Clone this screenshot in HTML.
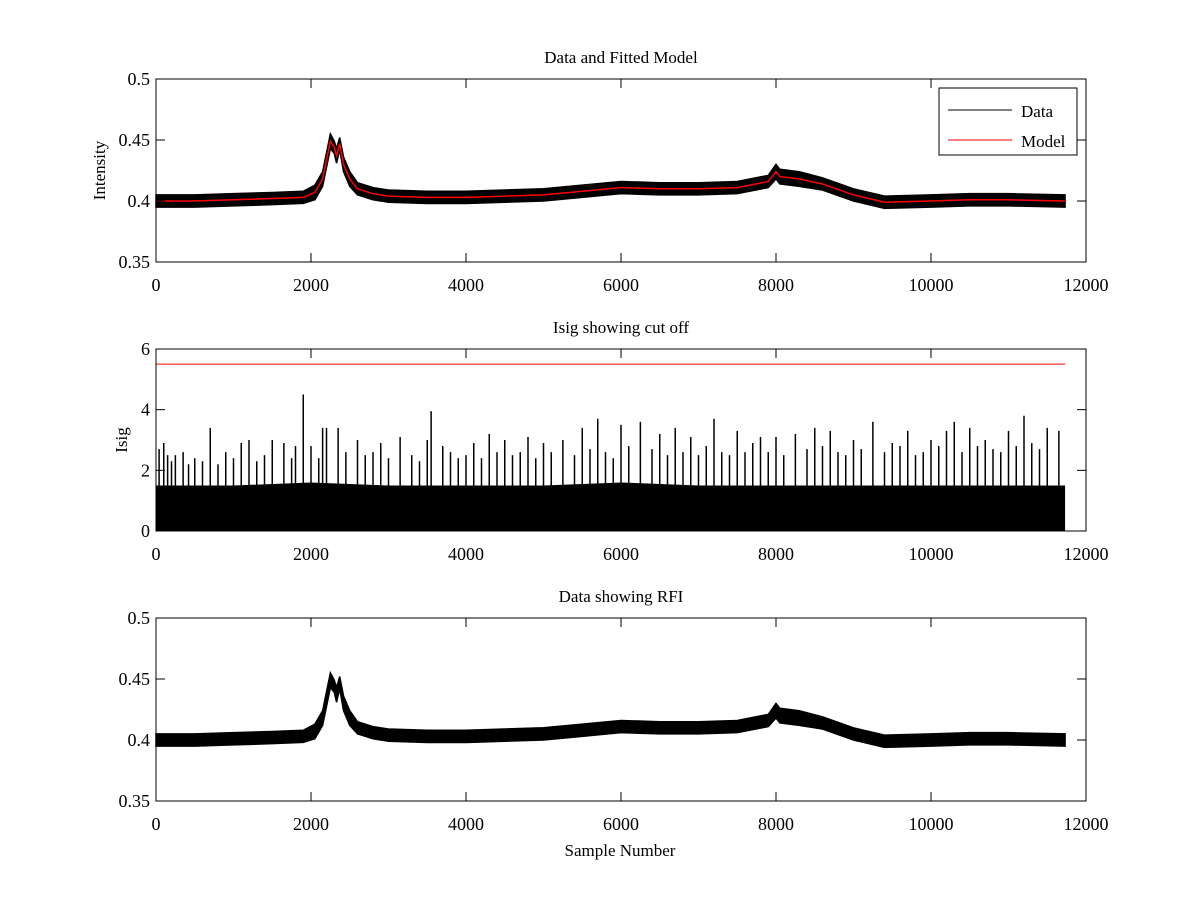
<!DOCTYPE html>
<html><head><meta charset="utf-8"><style>
body{margin:0;background:#fff;}
svg text{font-family:"Liberation Serif",serif;fill:#000;}
</style></head><body>
<svg id="fig" width="1200" height="900" xmlns="http://www.w3.org/2000/svg"></svg>
<script>
// ---- data ----
const modelX = [0,500,1000,1500,1900,2050,2150,2250,2300,2330,2370,2420,2500,2600,2800,3000,3500,4000,4500,5000,5500,6000,6500,7000,7500,7900,8000,8050,8300,8600,9000,9400,10000,10500,11000,11730];
const modelY = [0.400,0.400,0.401,0.402,0.403,0.407,0.418,0.449,0.444,0.437,0.447,0.430,0.418,0.410,0.406,0.404,0.403,0.403,0.404,0.405,0.408,0.411,0.410,0.410,0.411,0.416,0.424,0.420,0.418,0.414,0.405,0.399,0.400,0.401,0.401,0.400];
const noiseHalf = [0.005,0.005,0.005,0.005,0.005,0.006,0.006,0.006,0.005,0.006,0.005,0.006,0.006,0.005,0.005,0.005,0.005,0.005,0.005,0.005,0.005,0.005,0.005,0.005,0.005,0.005,0.006,0.006,0.006,0.005,0.005,0.005,0.005,0.005,0.005,0.005];
const isigBaseX = [0,1000,2000,3000,4000,5000,6000,7000,8000,9000,10000,11000,11730];
const isigBase = [1.5,1.5,1.6,1.5,1.5,1.5,1.6,1.5,1.5,1.5,1.5,1.5,1.5];
const spikeX = [40,100,150,200,250,350,420,500,600,700,800,900,1000,1100,1200,1300,1400,1500,1650,1750,1800,1900,2000,2100,2150,2200,2350,2450,2600,2700,2800,2900,3000,3150,3300,3400,3500,3550,3700,3800,3900,4000,4100,4200,4300,4400,4500,4600,4700,4800,4900,5000,5100,5250,5400,5500,5600,5700,5800,5900,6000,6100,6250,6400,6500,6600,6700,6800,6900,7000,7100,7200,7300,7400,7500,7600,7700,7800,7900,8000,8100,8250,8400,8500,8600,8700,8800,8900,9000,9100,9250,9400,9500,9600,9700,9800,9900,10000,10100,10200,10300,10400,10500,10600,10700,10800,10900,11000,11100,11200,11300,11400,11500,11650];
const spikeV = [2.7,2.9,2.5,2.3,2.5,2.6,2.2,2.4,2.3,3.4,2.2,2.6,2.4,2.9,3.0,2.3,2.5,3.0,2.9,2.4,2.8,4.5,2.8,2.4,3.4,3.4,3.4,2.6,3.0,2.5,2.6,2.9,2.4,3.1,2.5,2.3,3.0,3.95,2.8,2.6,2.4,2.5,2.9,2.4,3.2,2.6,3.0,2.5,2.6,3.1,2.4,2.9,2.6,3.0,2.5,3.4,2.7,3.7,2.6,2.4,3.5,2.8,3.6,2.7,3.2,2.5,3.4,2.6,3.1,2.5,2.8,3.7,2.6,2.5,3.3,2.6,2.9,3.1,2.6,3.1,2.5,3.2,2.7,3.4,2.8,3.3,2.6,2.5,3.0,2.7,3.6,2.6,2.9,2.8,3.3,2.5,2.6,3.0,2.8,3.3,3.6,2.6,3.4,2.8,3.0,2.7,2.6,3.3,2.8,3.8,2.9,2.7,3.4,3.3];
const cutoff = 5.5;
const xTicks = [0,2000,4000,6000,8000,10000,12000];
const yTicks1 = [0.35,0.4,0.45,0.5];
const yTicks2 = [0,2,4,6];

const svg = document.getElementById('fig');
const NS = 'http://www.w3.org/2000/svg';
function mk(tag, attrs, parent){const e=document.createElementNS(NS,tag);for(const k in attrs)e.setAttribute(k,attrs[k]);(parent||svg).appendChild(e);return e;}
const X0=156,X1=1086;
const sx = v => X0 + (v/12000)*(X1-X0);

function axes(top,bot,ymin,ymax,yt,title,ylabel,name){
  const g=mk('g',{});
  
  
  const sy = v => bot - (v-ymin)/(ymax-ymin)*(bot-top);
  return {g,sy,top,bot,yt,title,ylabel,name};
}
function frame(a){
  const {g,sy,top,bot,yt}=a;
  mk('rect',{x:X0,y:top,width:X1-X0,height:bot-top,fill:'none',stroke:'#000','stroke-width':1},g);
  xTicks.forEach(t=>{const x=sx(t);
    mk('line',{x1:x,x2:x,y1:bot,y2:bot-9,stroke:'#000'},g);
    mk('line',{x1:x,x2:x,y1:top,y2:top+9,stroke:'#000'},g);
    const tx=mk('text',{x:x,y:bot+29,'text-anchor':'middle','font-size':18},g);tx.textContent=t;
    
    
  });
  yt.forEach(t=>{const y=sy(t);
    mk('line',{x1:X0,x2:X0+9,y1:y,y2:y,stroke:'#000'},g);
    mk('line',{x1:X1,x2:X1-9,y1:y,y2:y,stroke:'#000'},g);
    const tx=mk('text',{x:X0-6,y:y+6,'text-anchor':'end','font-size':18},g);tx.textContent=String(t);
    
    
  });
  const ti=mk('text',{x:(X0+X1)/2,y:top-16,'text-anchor':'middle','font-size':17},g);ti.textContent=a.title;
  
  
  const yl=mk('text',{x:0,y:0,'text-anchor':'middle','font-size':17,transform:`translate(${a.ylabel[1]},${(top+bot)/2}) rotate(-90)`},g);yl.textContent=a.ylabel[0];
  
  
}
function band(a){
  const {g,sy}=a;
  let up=modelX.map((x,i)=>`${sx(x)},${sy(modelY[i]+noiseHalf[i])}`);
  let dn=modelX.map((x,i)=>`${sx(x)},${sy(modelY[i]-noiseHalf[i])}`).reverse();
  const p=mk('polygon',{points:up.concat(dn).join(' '),fill:'#000',stroke:'#000','stroke-width':1.5},g);
  
  
}

// Plot 1
const a1=axes(79,262,0.35,0.5,yTicks1,'Data and Fitted Model',['Intensity',105],'data-fitted-plot');
band(a1);
const ml=mk('polyline',{points:modelX.map((x,i)=>`${sx(x)},${a1.sy(modelY[i])}`).join(' '),fill:'none',stroke:'#f00','stroke-width':1.5},a1.g);


frame(a1);
const lg=mk('g',{},a1.g);


mk('rect',{x:939,y:88,width:138,height:67,fill:'#fff',stroke:'#000'},lg);
mk('line',{x1:948,x2:1012,y1:110,y2:110,stroke:'#000'},lg);
let t=mk('text',{x:1021,y:117,'font-size':17},lg);t.textContent='Data';
mk('line',{x1:948,x2:1012,y1:140,y2:140,stroke:'#f00'},lg);
t=mk('text',{x:1021,y:147,'font-size':17},lg);t.textContent='Model';

// Plot 2
const a2=axes(349,531,0,6,yTicks2,'Isig showing cut off',['Isig',127],'isig-plot');
const bp=isigBaseX.map((x,i)=>`${sx(x)},${a2.sy(isigBase[i])}`);
const base=mk('polygon',{points:[`${sx(0)},${a2.sy(0)}`].concat(bp,[`${sx(11730)},${a2.sy(0)}`]).join(' '),fill:'#000'},a2.g);


spikeX.forEach((x,i)=>{
  const s=mk('line',{x1:sx(x),x2:sx(x),y1:a2.sy(0),y2:a2.sy(spikeV[i]),stroke:'#000','stroke-width':1.5},a2.g);
  
  
});
const cl=mk('line',{x1:sx(0),x2:sx(11730),y1:a2.sy(cutoff),y2:a2.sy(cutoff),stroke:'#f00','stroke-width':1},a2.g);


frame(a2);

// Plot 3
const a3=axes(618,801,0.35,0.5,yTicks1,'Data showing RFI',['',0],'data-rfi-plot');
band(a3);
frame(a3);
const xl=mk('text',{x:620,y:856,'text-anchor':'middle','font-size':17});
xl.textContent='Sample Number';


</script>
</body></html>
